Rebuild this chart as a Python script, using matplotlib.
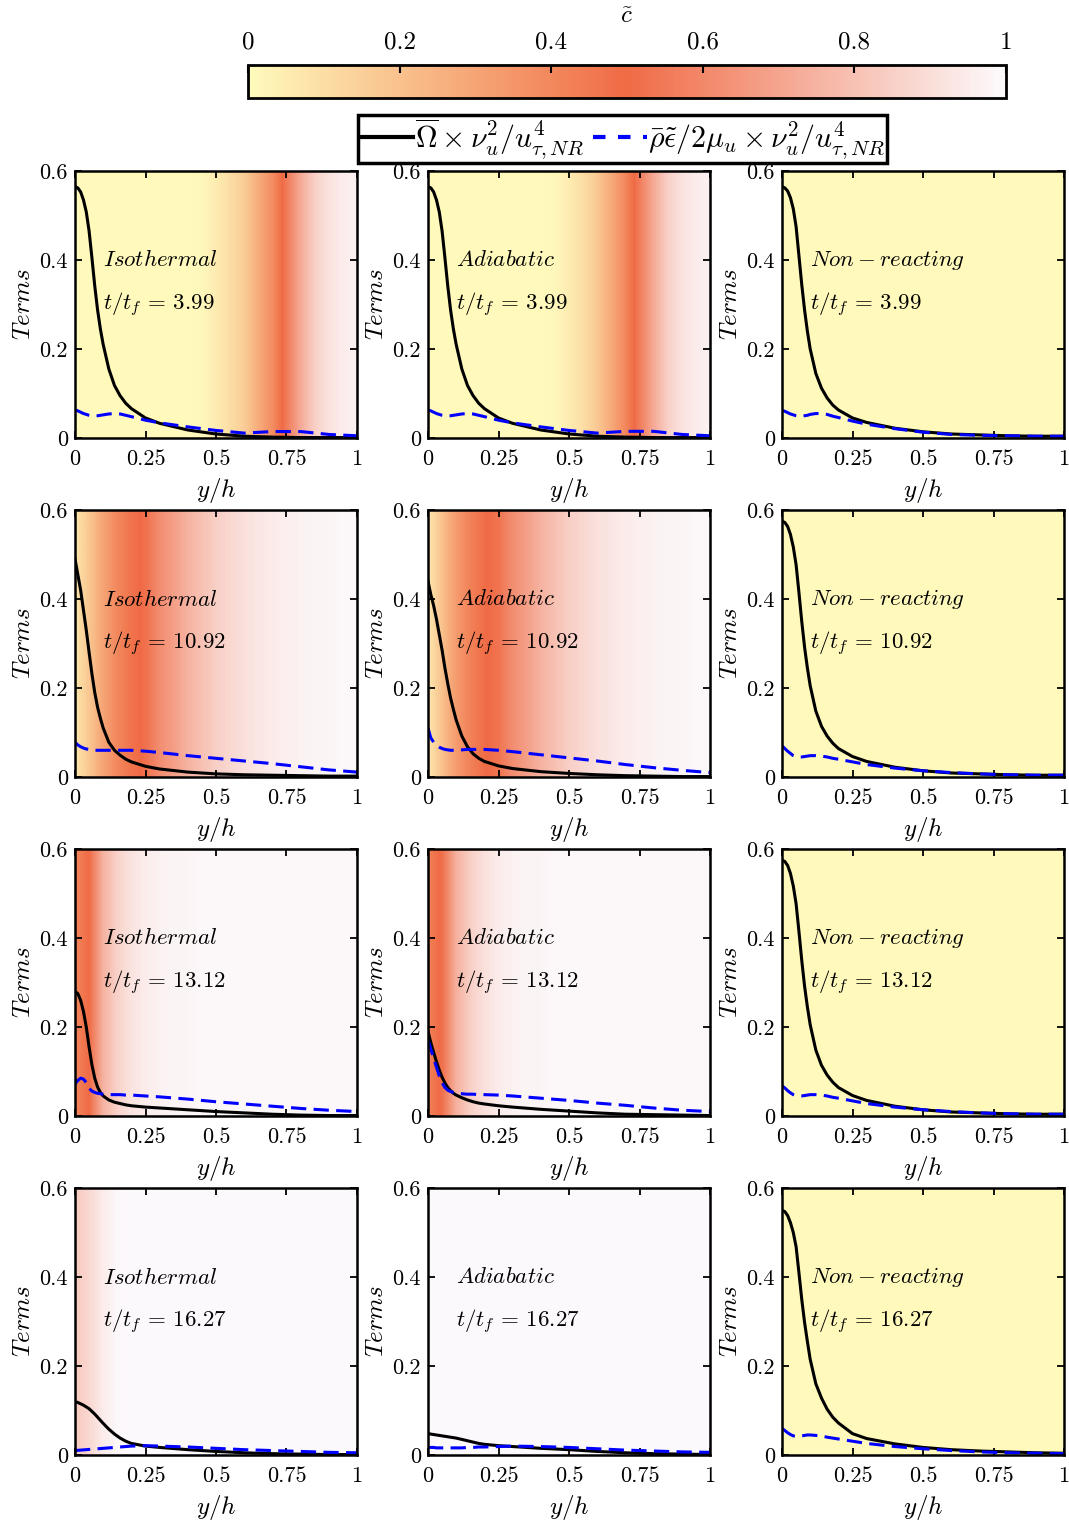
import numpy as np
import matplotlib
matplotlib.use("Agg")
import matplotlib.pyplot as plt
from matplotlib.colors import LinearSegmentedColormap, Normalize
from matplotlib.cm import ScalarMappable
from matplotlib.lines import Line2D

plt.rcParams["font.family"] = "serif"
plt.rcParams["font.serif"] = ["cmr10"]
plt.rcParams["mathtext.fontset"] = "cm"
plt.rcParams["axes.formatter.use_mathtext"] = True

# wall-normal sample points for the budget terms
y_pts = [0, 0.01, 0.02, 0.03, 0.04, 0.05, 0.06, 0.07, 0.08, 0.09, 0.1, 0.12, 0.14,
         0.16, 0.18, 0.2, 0.25, 0.3, 0.4, 0.5, 0.6, 0.7, 0.8, 0.9, 1.0]
# uniform samples for the progress variable field
c_y = np.linspace(0, 1, 21)

cases = ["Isothermal", "Adiabatic", "Non-reacting"]
times = ["3.99", "10.92", "13.12", "16.27"]

# mean progress variable c~ vs y/h, one row per time
c_iso = [
    [0, 0, 0, 0, 0, 0, 0, 0, 0, 0.01, 0.05, 0.1, 0.16, 0.27, 0.38, 0.55, 0.72, 0.85, 0.92, 0.95, 0.97],
    [0.07, 0.18, 0.3, 0.4, 0.47, 0.52, 0.62, 0.68, 0.75, 0.8, 0.85, 0.88, 0.91, 0.93, 0.95, 0.96, 0.97, 0.98, 0.98, 0.99, 0.99],
    [0.4, 0.5, 0.75, 0.86, 0.92, 0.95, 0.97, 0.98, 0.98, 0.99, 0.99, 0.99, 0.99, 0.99, 0.99, 0.99, 0.99, 0.99, 0.99, 0.99, 0.99],
    [0.83, 0.88, 0.95, 0.99, 1, 1, 1, 1, 1, 1, 1, 1, 1, 1, 1, 1, 1, 1, 1, 1, 1],
]
c_adi = [
    [0, 0, 0, 0, 0, 0, 0, 0, 0, 0.01, 0.05, 0.1, 0.17, 0.28, 0.4, 0.56, 0.72, 0.85, 0.92, 0.95, 0.97],
    [0.06, 0.2, 0.33, 0.42, 0.49, 0.53, 0.62, 0.68, 0.75, 0.8, 0.85, 0.88, 0.91, 0.93, 0.95, 0.96, 0.97, 0.98, 0.98, 0.99, 0.99],
    [0.42, 0.52, 0.74, 0.85, 0.91, 0.95, 0.97, 0.98, 0.98, 0.99, 0.99, 0.99, 0.99, 0.99, 0.99, 0.99, 0.99, 0.99, 0.99, 0.99, 0.99],
    [1, 1, 1, 1, 1, 1, 1, 1, 1, 1, 1, 1, 1, 1, 1, 1, 1, 1, 1, 1, 1],
]
c_nr = [[0] * 21 for _ in range(4)]

# mean reaction-rate term (solid)
omega_iso = [
    [0.565, 0.562, 0.553, 0.535, 0.508, 0.465, 0.405, 0.342, 0.288, 0.245, 0.21, 0.155, 0.118,
     0.095, 0.078, 0.066, 0.045, 0.033, 0.018, 0.009, 0.004, 0.002, 0.001, 0.001, 0.001],
    [0.49, 0.455, 0.42, 0.375, 0.33, 0.28, 0.232, 0.19, 0.157, 0.132, 0.11, 0.078, 0.06,
     0.049, 0.04, 0.034, 0.024, 0.018, 0.011, 0.007, 0.005, 0.004, 0.003, 0.002, 0.002],
    [0.28, 0.275, 0.26, 0.235, 0.2, 0.155, 0.115, 0.085, 0.065, 0.053, 0.045, 0.036, 0.031,
     0.028, 0.025, 0.023, 0.02, 0.018, 0.014, 0.01, 0.007, 0.004, 0.002, 0.001, 0.001],
    [0.12, 0.118, 0.115, 0.112, 0.108, 0.104, 0.098, 0.092, 0.085, 0.078, 0.071, 0.058, 0.047,
     0.038, 0.031, 0.026, 0.02, 0.017, 0.012, 0.008, 0.005, 0.003, 0.002, 0.001, 0.001],
]
omega_adi = [
    [0.565, 0.562, 0.553, 0.535, 0.508, 0.465, 0.405, 0.342, 0.288, 0.245, 0.21, 0.155, 0.118,
     0.095, 0.078, 0.066, 0.045, 0.033, 0.018, 0.009, 0.004, 0.002, 0.001, 0.001, 0.001],
    [0.44, 0.41, 0.385, 0.355, 0.32, 0.285, 0.245, 0.21, 0.178, 0.152, 0.128, 0.092, 0.068,
     0.052, 0.042, 0.035, 0.025, 0.019, 0.012, 0.008, 0.005, 0.003, 0.002, 0.001, 0.001],
    [0.19, 0.165, 0.143, 0.122, 0.103, 0.087, 0.074, 0.064, 0.057, 0.051, 0.047, 0.041, 0.036,
     0.032, 0.029, 0.027, 0.023, 0.02, 0.015, 0.011, 0.007, 0.004, 0.003, 0.002, 0.001],
    [0.048, 0.047, 0.046, 0.045, 0.044, 0.043, 0.042, 0.041, 0.04, 0.039, 0.038, 0.035, 0.032,
     0.029, 0.026, 0.024, 0.021, 0.019, 0.015, 0.012, 0.008, 0.005, 0.003, 0.002, 0.001],
]
omega_nr = [
    [0.565, 0.562, 0.555, 0.54, 0.515, 0.475, 0.41, 0.345, 0.288, 0.24, 0.2, 0.145, 0.112,
     0.09, 0.074, 0.063, 0.045, 0.035, 0.022, 0.014, 0.009, 0.007, 0.005, 0.004, 0.004],
    [0.575, 0.572, 0.563, 0.545, 0.517, 0.477, 0.415, 0.35, 0.292, 0.245, 0.205, 0.148, 0.114,
     0.092, 0.076, 0.064, 0.046, 0.035, 0.022, 0.014, 0.009, 0.007, 0.005, 0.004, 0.004],
    [0.575, 0.572, 0.563, 0.545, 0.517, 0.477, 0.415, 0.35, 0.292, 0.245, 0.205, 0.148, 0.114,
     0.092, 0.076, 0.064, 0.046, 0.035, 0.022, 0.014, 0.009, 0.007, 0.005, 0.004, 0.004],
    [0.55, 0.547, 0.538, 0.522, 0.5, 0.468, 0.41, 0.35, 0.298, 0.255, 0.215, 0.16, 0.128,
     0.103, 0.085, 0.072, 0.048, 0.037, 0.025, 0.017, 0.012, 0.009, 0.007, 0.005, 0.004],
]

# scalar dissipation term (dashed)
eps_iso = [
    [0.063, 0.061, 0.058, 0.055, 0.053, 0.051, 0.05, 0.05, 0.05, 0.051, 0.052, 0.054, 0.055,
     0.054, 0.051, 0.048, 0.04, 0.034, 0.025, 0.017, 0.011, 0.0145, 0.0145, 0.008, 0.005],
    [0.078, 0.072, 0.068, 0.065, 0.063, 0.062, 0.061, 0.06, 0.06, 0.06, 0.06, 0.06, 0.06,
     0.06, 0.06, 0.06, 0.058, 0.055, 0.048, 0.042, 0.036, 0.03, 0.023, 0.016, 0.011],
    [0.072, 0.08, 0.085, 0.083, 0.075, 0.062, 0.056, 0.053, 0.051, 0.05, 0.049, 0.048, 0.048,
     0.048, 0.047, 0.047, 0.045, 0.043, 0.038, 0.032, 0.027, 0.022, 0.017, 0.013, 0.01],
    [0.01, 0.0105, 0.011, 0.0115, 0.012, 0.0125, 0.013, 0.0135, 0.014, 0.0145, 0.015, 0.016, 0.017,
     0.018, 0.019, 0.02, 0.021, 0.02, 0.018, 0.015, 0.012, 0.01, 0.008, 0.006, 0.005],
]
eps_adi = [
    [0.063, 0.061, 0.058, 0.055, 0.053, 0.051, 0.05, 0.05, 0.05, 0.051, 0.052, 0.054, 0.055,
     0.054, 0.051, 0.048, 0.04, 0.034, 0.025, 0.017, 0.011, 0.015, 0.015, 0.008, 0.005],
    [0.11, 0.088, 0.078, 0.071, 0.067, 0.064, 0.062, 0.061, 0.06, 0.06, 0.06, 0.061, 0.062,
     0.062, 0.062, 0.062, 0.06, 0.057, 0.05, 0.043, 0.036, 0.028, 0.021, 0.015, 0.01],
    [0.17, 0.15, 0.13, 0.11, 0.09, 0.075, 0.064, 0.058, 0.055, 0.053, 0.051, 0.05, 0.049,
     0.049, 0.048, 0.048, 0.047, 0.045, 0.04, 0.035, 0.029, 0.024, 0.018, 0.013, 0.01],
    [0.017, 0.017, 0.017, 0.016, 0.016, 0.016, 0.016, 0.016, 0.016, 0.016, 0.016, 0.016, 0.017,
     0.017, 0.018, 0.018, 0.019, 0.02, 0.019, 0.017, 0.014, 0.011, 0.009, 0.007, 0.006],
]
eps_nr = [
    [0.062, 0.06, 0.057, 0.054, 0.052, 0.05, 0.049, 0.049, 0.05, 0.051, 0.053, 0.055, 0.055,
     0.053, 0.049, 0.046, 0.038, 0.031, 0.021, 0.013, 0.008, 0.006, 0.005, 0.004, 0.004],
    [0.07, 0.064, 0.058, 0.053, 0.048, 0.046, 0.045, 0.045, 0.046, 0.047, 0.048, 0.048, 0.047,
     0.045, 0.042, 0.04, 0.034, 0.028, 0.02, 0.014, 0.01, 0.007, 0.005, 0.004, 0.004],
    [0.068, 0.063, 0.057, 0.052, 0.048, 0.046, 0.045, 0.045, 0.046, 0.047, 0.048, 0.048, 0.047,
     0.045, 0.042, 0.04, 0.034, 0.028, 0.02, 0.014, 0.01, 0.007, 0.005, 0.004, 0.004],
    [0.06, 0.055, 0.05, 0.046, 0.043, 0.042, 0.042, 0.043, 0.044, 0.045, 0.045, 0.044, 0.043,
     0.04, 0.038, 0.036, 0.031, 0.026, 0.019, 0.014, 0.01, 0.007, 0.005, 0.004, 0.003],
]

cmap = LinearSegmentedColormap.from_list(
    "flame", [(1.0, 0.98, 0.74), (0.94, 0.42, 0.27), (0.99, 0.98, 0.99)])
norm = Normalize(0, 1)

W, H = 1069, 1520
fig = plt.figure(figsize=(W / 100, H / 100), dpi=100)

col_left = [75, 428, 782]
row_top = [171, 510, 849, 1188]
aw, ah = 282, 267

fields = [c_iso, c_adi, c_nr]
omegas = [omega_iso, omega_adi, omega_nr]
epss = [eps_iso, eps_adi, eps_nr]
dc = c_y[1] - c_y[0]

for r in range(4):
    for k in range(3):
        ax = fig.add_axes([col_left[k] / W, 1 - (row_top[r] + ah) / H, aw / W, ah / H])
        field = np.array(fields[k][r])[None, :]
        ax.imshow(field, cmap=cmap, norm=norm, aspect="auto", origin="lower",
                  extent=[-dc / 2, 1 + dc / 2, 0, 0.6],
                  interpolation="bilinear", interpolation_stage="data")
        ax.plot(y_pts, omegas[k][r], color="black", lw=2.2)
        ax.plot(y_pts, epss[k][r], color=(0, 0, 1), lw=2.2, dashes=(5, 2.4))
        ax.set_xlim(0, 1)
        ax.set_ylim(0, 0.6)
        ax.set_xticks([0, 0.25, 0.5, 0.75, 1])
        ax.set_xticklabels(["0", "0.25", "0.5", "0.75", "1"])
        ax.set_yticks([0, 0.2, 0.4, 0.6])
        ax.set_yticklabels(["0", "0.2", "0.4", "0.6"])
        ax.tick_params(direction="in", top=True, right=True, length=5, width=1.3,
                       labelsize=16)
        ax.tick_params(axis="x", pad=8)
        ax.tick_params(axis="y", pad=5)
        for s in ax.spines.values():
            s.set_linewidth(1.8)
        ax.set_xlabel(r"$y/h$", fontsize=18, labelpad=5)
        ax.set_ylabel(r"$Terms$", fontsize=18, labelpad=3)
        ax.text(0.1, 0.4, r"$%s$" % cases[k], fontsize=16.5, va="center", ha="left")
        ax.text(0.1, 0.3, r"$t/t_f\,=\,%s$" % times[r], fontsize=16.5, va="center", ha="left")

# colour bar for c~
cax = fig.add_axes([248 / W, 1 - 98 / H, 758 / W, 33 / H])
cb = fig.colorbar(ScalarMappable(norm=norm, cmap=cmap), cax=cax,
                  orientation="horizontal", ticks=[0, 0.2, 0.4, 0.6, 0.8, 1])
cax.xaxis.set_ticks_position("top")
cax.xaxis.set_label_position("top")
cb.set_ticklabels(["0", "0.2", "0.4", "0.6", "0.8", "1"])
cax.tick_params(direction="in", length=6, width=1.5, labelsize=18, pad=8)
cb.outline.set_linewidth(2)
cb.set_label(r"$\tilde{c}$", fontsize=18, labelpad=6)

handles = [Line2D([], [], color="black", lw=3),
           Line2D([], [], color=(0, 0, 1), lw=3, dashes=(3, 3))]
labels = [r"$\overline{\Omega}\times\nu_u^2/u^4_{\tau,NR}$",
          r"$\bar{\rho}\tilde{\epsilon}/2\mu_u\times\nu_u^2/u^4_{\tau,NR}$"]
leg = fig.legend(handles, labels, loc="center", bbox_to_anchor=(622.5 / W, 1 - 139 / H),
                 ncol=2, fontsize=21.5, frameon=True, fancybox=False, edgecolor="black",
                 framealpha=1, handlelength=1.8, handletextpad=0.05, columnspacing=0.3,
                 borderpad=0.05, borderaxespad=0)
leg.get_frame().set_linewidth(2.5)

fig.savefig("out.png", dpi=100, facecolor="white")
